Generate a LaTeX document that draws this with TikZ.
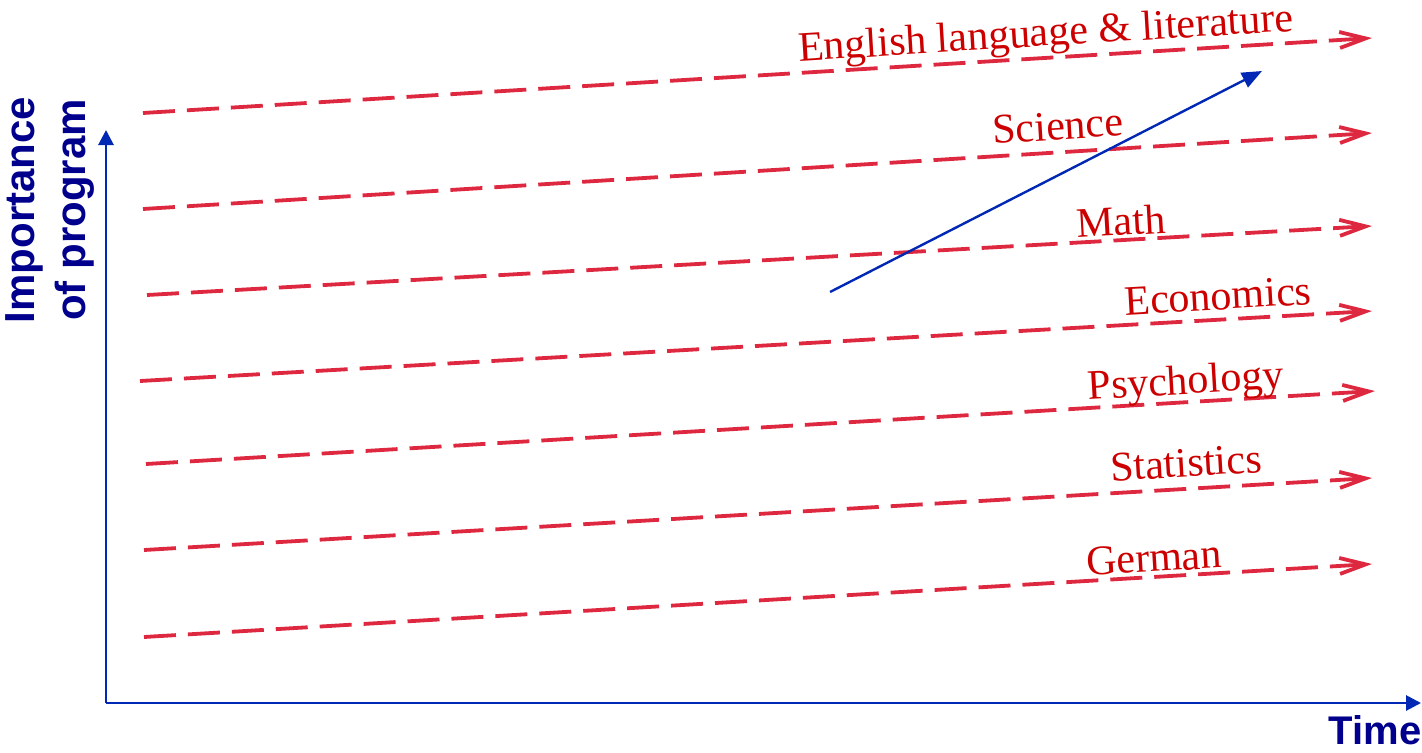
\documentclass[tikz,border=0pt]{standalone}
\usepackage{fontspec}
\setmainfont{Liberation Serif}
\setsansfont{Liberation Sans}
\usetikzlibrary{arrows.meta}
\definecolor{lanered}{RGB}{222,40,64}
\definecolor{labelred}{RGB}{204,0,0}
\definecolor{axisblue}{RGB}{0,40,180}
\definecolor{titleblue}{RGB}{0,0,140}

\begin{document}
\begin{tikzpicture}[x=.5pt,y=.5pt,
  lane/.style={draw=lanered,line width=1.9pt,dash pattern=on 16pt off 6pt,-{Straight Barb[length=13pt,width=8pt]}},
  subject/.style={font=\fontsize{21}{25}\selectfont,text=labelred,inner sep=0pt},
  axis/.style={draw=axisblue,line width=1.4pt,-{Triangle[length=7.5pt,width=7.5pt]}},
  trend/.style={draw=axisblue,line width=1.2pt,-{Triangle[length=10pt,width=8pt]}},
  axislabel/.style={font=\fontsize{21}{25.5}\selectfont\sffamily\bfseries,text=titleblue,align=center,inner sep=0pt}]

\path[use as bounding box] (0,0) rectangle (1422,752);
% axes
\coordinate (origin) at (106,49);
\coordinate (ytop) at (106,622);
\coordinate (xend) at (1421,49);
\draw[axis] (origin)--(ytop);
\draw[axis] (origin)--(xend);
\node[axislabel,rotate=90] (importance) at (50,542) {Importance\\of program};
\node[axislabel,font=\fontsize{20}{24}\selectfont\sffamily\bfseries] (time) at (1375,22) {Time};
% subject lanes
\foreach \name/\xa/\ya/\xb/\yb in {eng/143/639/1372/714,sci/143/543/1372/619,math/147/457/1372/526,
  econ/140/371/1372/441,psych/146/288/1375/361,stat/144/202/1372/274,germ/144/115/1372/188}{
  \coordinate (\name-s) at (\xa,\ya);
  \coordinate (\name-e) at (\xb,\yb);
  \draw[lane] (\name-s)--(\name-e);
}
\node[subject,rotate=3.5] (englabel) at (1046,716) {English language \& literature};
\node[subject,rotate=3.5] (scilabel) at (1058,626) {Science};
\node[subject,rotate=3.3] (mathlabel) at (1121,531) {Math};
\node[subject,rotate=3.3] (econlabel) at (1218,456) {Economics};
\node[subject,rotate=3.4] (psychlabel) at (1186,368) {Psychology};
\node[subject,rotate=3.4] (statlabel) at (1186,289) {Statistics};
\node[subject,rotate=3.4] (germlabel) at (1154,194) {German};
% rising trend
\coordinate (trend-s) at (830,460);
\coordinate (trend-e) at (1262,681);
\draw[trend] (trend-s)--(trend-e);

\end{tikzpicture}
\end{document}
